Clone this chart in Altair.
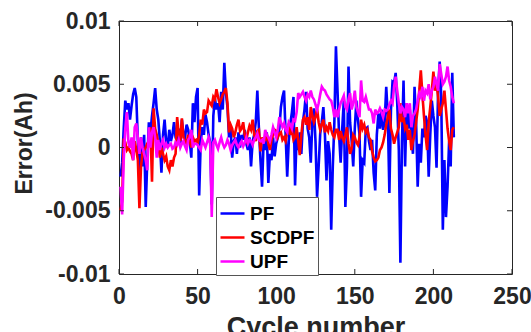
import altair as alt
import pandas as pd

# Errors in units of 1e-4 Ah, cycles 1..213
PF_E4 = [
    -23, -12, 15, 37, 30, 35, 22, 33, 42, 47,
    40, 5, -20, 8, -15, 10, -47, -10, 20, 12,
    25, 35, 47, 30, 22, 5, -20, 10, 22, 5,
    0, 14, 5, 10, 20, 8, 5, 15, 2, 22,
    10, 8, 18, 14, 5, -8, 35, 20, 40, 47,
    -38, 5, 16, 10, 26, 20, 10, 4, -45, 25,
    39, 30, 35, 20, 44, 30, 67, 43, 32, 8,
    15, -8, 5, 8, -5, 12, 0, 10, 6, 14,
    3, -2, 8, -15, 5, 10, 20, 45, 15, -10,
    -31, 5, -2, 12, -28, -5, -10, 8, -7, 3,
    8, 15, 32, 40, 45, 10, -23, 5, 19, 28,
    40, -30, 10, -2, 12, -5, 20, 30, 44, 15,
    8, -12, 20, 31, 5, -39, -15, 11, 20, 32,
    10, -26, 5, -5, -65, -15, 20, 80, 45, 10,
    -12, 15, 37, -47, -15, 64, 20, 5, -15, 15,
    37, 22, 10, -39, -10, -12, 15, 16, 5, -2,
    6, -20, -34, 10, 27, 15, 30, 14, 20, 48,
    25, -36, 30, 52, 51, 59, 35, -2, -91, 5,
    53, -15, 35, 15, 30, 10, -5, 48, 20, -31,
    3, -12, 15, 8, 25, 20, -23, 10, 37, 25,
    16, -16, 45, 68, 40, -65, -10, -55, -31, 5,
    -15, 59, 8,
]

SCDPF_E4 = [
    -50, -42, 7, 4, -2, 0, -3, -5, -10, 5,
    -2, -10, -48, -15, -4, -2, 0, 3, 5, 16,
    -27, 31, 15, 10, 3, -8, 0, -5, -10, -7,
    -15, -18, -10, -15, -8, -5, 24, 10, 5, 23,
    8, 5, 3, 10, 5, 0, 8, 5, 6, 3,
    10, 22, 18, 30, 27, 28, 37, 35, 33, 40,
    38, 46, 40, 35, 38, 42, 44, 47, 35, 12,
    18, 15, 8, 12, 18, 22, 13, 15, 20, 10,
    6, 12, 17, 14, 22, 10, 5, 13, 14, -3,
    8, 5, 6, 11, 3, -2, 6, 10, 14, 13,
    8, 11, 12, 6, 8, 5, 12, 19, 10, 14,
    6, 8, 16, 5, -6, 10, 22, 24, 18, 24,
    14, 32, 25, 20, 24, 31, 20, 14, 18, 22,
    12, 16, 13, 20, 14, 10, 8, 14, 14, 6,
    13, 8, 5, 10, 16, 3, -5, -1, 10, 8,
    4, 2, 8, 22, 15, 18, 12, 14, 8, 6,
    -3, -8, -11, -10, -8, -2, 0, 4, 10, 18,
    24, 30, 15, 10, 3, 8, 12, 16, 35, 20,
    24, 15, 18, 6, 14, -2, 5, 10, 20, 30,
    45, 61, 42, 25, 10, -2, 20, 32, 45, 60,
    45, 50, 40, 25, 30, 35, 45, 30, 15, 5,
    -2, 14, 16,
]

UPF_E4 = [
    -31, -53, -10, 15, 28, 4, 0, 8, -10, 16,
    19, 8, -5, 8, 0, -5, -10, -18, 16, 0,
    12, 16, 8, -8, 6, -2, 3, 6, 0, 3,
    0, 2, 3, -1, 0, 4, 2, 6, 0, 3,
    5, 1, -2, 6, 8, 14, 0, 3, 3, 2,
    0, -2, 6, 3, 0, 4, 8, 3, -55, 4,
    6, 2, -1, 4, 8, 3, 0, 2, 6, 3,
    -2, 2, 4, 6, 2, 0, 3, 5, 1, 4,
    8, 3, 6, 5, 2, 6, 8, 11, 6, 5,
    6, 3, 14, 10, 8, 5, 10, 16, 12, 8,
    14, 24, 20, 16, 19, 14, 12, 20, 18, 15,
    22, 21, 28, 43, 40, 42, 44, 40, 37, 42,
    40, 45, 40, 38, 34, 30, 35, 42, 48, 46,
    45, 42, 40, 38, 37, 32, 24, 30, 24, 30,
    35, 38, 41, 32, 30, 38, 43, 30, 35, 45,
    32, 28, 24, 53, 37, 36, 40, 35, 30, 30,
    27, 19, 30, 27, 28, 31, 28, 24, 30, 29,
    30, 34, 37, 35, 48, 56, 45, 35, 27, 32,
    30, 24, 35, 27, 35, 16, 25, 27, 30, 37,
    43, 40, 48, 37, 45, 43, 50, 38, 45, 48,
    56, 50, 45, 66, 58, 50, 52, 56, 64, 53,
    48, 40, 35,
]

SERIES = ["PF", "SCDPF", "UPF"]
COLORS = ["#0000FF", "#FF0000", "#FF00FF"]
X_TICKS = [0, 50, 100, 150, 200, 250]
Y_TICKS = [-0.01, -0.005, 0, 0.005, 0.01]

rows = []
for name, vals in zip(SERIES, [PF_E4, SCDPF_E4, UPF_E4]):
    for i, v in enumerate(vals):
        rows.append({"cycle": i + 1, "err": v * 1e-4, "series": name})
df = pd.DataFrame(rows)

W, H = 393, 253
FONT = "Liberation Sans"
TXT = "#262626"

xscale = alt.Scale(domain=[0, 250], nice=False)
yscale = alt.Scale(domain=[-0.01, 0.01], nice=False)

xaxis = alt.Axis(values=X_TICKS, title="Cycle number", grid=False, ticks=False, tickSize=0,
                 domain=False, labelFont=FONT, labelFontSize=23, labelFontWeight="bold",
                 labelColor=TXT, labelPadding=11, labelBaseline="top", labelFlush=False,
                 titleFont=FONT, titleFontSize=27, titleFontWeight="bold", titleColor=TXT,
                 titleBaseline="alphabetic", titleY=61)
yaxis = alt.Axis(values=Y_TICKS, title="Error(Ah)", grid=False, ticks=False, tickSize=0,
                 domain=False, labelFont=FONT, labelFontSize=23, labelFontWeight="bold",
                 labelColor=TXT, labelPadding=9, labelFlush=False,
                 labelExpr="replace(format(datum.value, '.3~f'), '\u2212', '-')",
                 titleFont=FONT, titleFontSize=23, titleFontWeight="bold", titleColor=TXT,
                 titleX=-88, titleY=122, titleBaseline="alphabetic", titleAngle=-90)

color = alt.Color("series:N", scale=alt.Scale(domain=SERIES, range=COLORS), title=None,
                  legend=alt.Legend(orient="none", legendX=97, legendY=176,
                                    symbolType="stroke", symbolSize=576, symbolStrokeWidth=2.5,
                                    labelFont=FONT, labelFontSize=19, labelFontWeight="bold",
                                    labelColor="#000000", labelOffset=4, rowPadding=0,
                                    padding=3, strokeColor="#555555", fillColor="#FFFFFF"))

layers = []
for name in SERIES:
    layers.append(
        alt.Chart(df).transform_filter(alt.datum.series == name).mark_line(strokeWidth=2.6).encode(
            x=alt.X("cycle:Q", scale=xscale, axis=xaxis),
            y=alt.Y("err:Q", scale=yscale, axis=yaxis),
            color=color,
        )
    )

xt = pd.DataFrame({"t": X_TICKS})
yt = pd.DataFrame({"t": Y_TICKS})
tick_style = dict(color=TXT, strokeWidth=1)
xt_bottom = alt.Chart(xt).mark_rule(**tick_style).encode(
    x=alt.X("t:Q", scale=xscale, axis=xaxis), y=alt.value(H), y2=alt.value(H - 5))
xt_top = alt.Chart(xt).mark_rule(**tick_style).encode(
    x=alt.X("t:Q", scale=xscale, axis=xaxis), y=alt.value(0), y2=alt.value(5))
yt_left = alt.Chart(yt).mark_rule(**tick_style).encode(
    y=alt.Y("t:Q", scale=yscale, axis=yaxis), x=alt.value(0), x2=alt.value(5))
yt_right = alt.Chart(yt).mark_rule(**tick_style).encode(
    y=alt.Y("t:Q", scale=yscale, axis=yaxis), x=alt.value(W), x2=alt.value(W - 5))

chart = alt.layer(*layers, xt_bottom, xt_top, yt_left, yt_right).properties(
    width=W, height=H,
    autosize=alt.AutoSizeParams(type="none"),
    padding={"left": 119, "top": 21, "right": 19, "bottom": 58},
    background="#FFFFFF",
).configure_view(stroke=TXT, strokeWidth=1)

chart.save("out.html", embed_options={"renderer": "svg", "actions": False})
